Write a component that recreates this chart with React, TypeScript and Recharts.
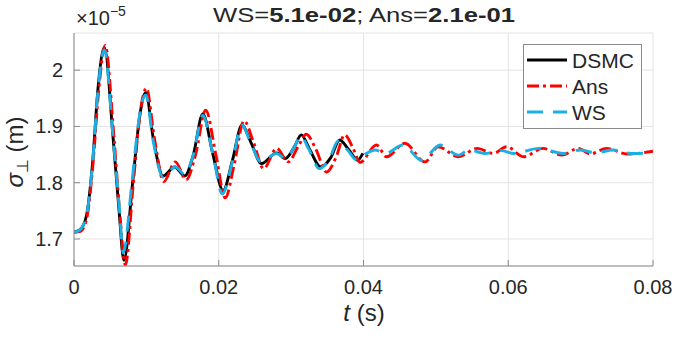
import React from "react";
import { LineChart, Line, XAxis, YAxis, CartesianGrid } from "recharts";

// time (s) and sigma (x1e-5 m) for each series
const dsmcT = [0, 0.0008, 0.0017, 0.0026, 0.0033, 0.0042, 0.0054, 0.0062, 0.0069, 0.0081, 0.0091, 0.0099, 0.011, 0.0123, 0.0139, 0.0153, 0.0165, 0.0178, 0.0192, 0.0206, 0.0219, 0.0232, 0.0245, 0.0259, 0.028, 0.0292, 0.0305, 0.0314, 0.0326, 0.0341, 0.0355, 0.0367, 0.038, 0.0392, 0.0399];
const dsmcV = [1.712, 1.716, 1.74, 1.84, 1.965, 2.04, 1.88, 1.755, 1.662, 1.8, 1.92, 1.96, 1.875, 1.812, 1.828, 1.812, 1.85, 1.922, 1.85, 1.786, 1.84, 1.902, 1.87, 1.834, 1.853, 1.843, 1.865, 1.885, 1.858, 1.828, 1.845, 1.876, 1.858, 1.84, 1.852];

const ansT = [0, 0.0008, 0.0017, 0.0026, 0.0034, 0.0043, 0.0055, 0.0063, 0.0071, 0.0082, 0.0092, 0.01, 0.0111, 0.0124, 0.014, 0.0155, 0.0168, 0.0182, 0.0196, 0.0209, 0.0221, 0.0235, 0.0248, 0.0262, 0.028, 0.0296, 0.031, 0.0321, 0.0334, 0.0349, 0.0362, 0.0374, 0.0386, 0.0395, 0.0418, 0.0432, 0.0457, 0.0485, 0.0503, 0.0531, 0.0557, 0.0579, 0.0598, 0.0621, 0.0648, 0.0674, 0.0697, 0.0713, 0.0736, 0.0764, 0.08];
const ansV = [1.712, 1.713, 1.733, 1.83, 1.962, 2.044, 1.885, 1.75, 1.654, 1.8, 1.93, 1.968, 1.88, 1.802, 1.837, 1.805, 1.85, 1.929, 1.85, 1.773, 1.83, 1.91, 1.872, 1.825, 1.861, 1.837, 1.865, 1.886, 1.86, 1.819, 1.845, 1.885, 1.86, 1.836, 1.867, 1.846, 1.87, 1.837, 1.864, 1.846, 1.861, 1.852, 1.864, 1.846, 1.861, 1.849, 1.861, 1.851, 1.861, 1.851, 1.856];

const wsT = [0, 0.0008, 0.0017, 0.0026, 0.0033, 0.0042, 0.0054, 0.0063, 0.0068, 0.008, 0.009, 0.0099, 0.011, 0.0123, 0.014, 0.0153, 0.0165, 0.0178, 0.0192, 0.0205, 0.0219, 0.0232, 0.0245, 0.0258, 0.028, 0.0292, 0.0305, 0.0313, 0.0325, 0.0339, 0.0353, 0.0365, 0.0378, 0.0391, 0.0404, 0.0416, 0.043, 0.0455, 0.048, 0.0506, 0.0531, 0.0546, 0.0568, 0.059, 0.0608, 0.0642, 0.0676, 0.07, 0.072, 0.0745, 0.077, 0.08];
const wsV = [1.712, 1.716, 1.74, 1.84, 1.962, 2.036, 1.88, 1.75, 1.675, 1.8, 1.915, 1.956, 1.87, 1.81, 1.828, 1.815, 1.85, 1.92, 1.85, 1.78, 1.838, 1.902, 1.868, 1.837, 1.852, 1.843, 1.865, 1.883, 1.858, 1.825, 1.843, 1.874, 1.858, 1.84, 1.852, 1.858, 1.852, 1.867, 1.84, 1.867, 1.849, 1.858, 1.852, 1.857, 1.852, 1.861, 1.852, 1.858, 1.853, 1.858, 1.852, 1.853];

const seriesNames = ["DSMC", "Ans", "WS"];
const seriesColors = ["#000000", "#ff0000", "#1ab0e4"];
const seriesDash = ["", "12 4 3 4", "16 10"];

const xTicks = [0, 0.02, 0.04, 0.06, 0.08];
const xTickLabels = ["0", "0.02", "0.04", "0.06", "0.08"];
const yTicks = [1.7, 1.8, 1.9, 2.0];
const yTickLabels = ["1.7", "1.8", "1.9", "2"];
const xDomain = [0, 0.08];
const yDomain = [1.652, 2.066];

const titleParts = ["WS=", "5.1e-02", "; Ans=", "2.1e-01"];

const toData = (t: number[], v: number[]) => t.map((tt, i) => ({ t: tt, v: v[i] }));
const seriesData = [toData(dsmcT, dsmcV), toData(ansT, ansV), toData(wsT, wsV)];

const FONT = "'Liberation Sans', Arial, sans-serif";
const AX = "#8a8a8a";
const TXT = "#262626";
const LW = 2.9;

const BottomTick = (p: any) => {
  const { x, y, payload, index } = p;
  return (
    <g>
      <line x1={x} x2={x} y1={y} y2={y - 6} stroke={AX} />
      <text x={x} y={y + 28} textAnchor="middle" fontSize={20} style={{ fontFamily: FONT }} fill={TXT}>
        {xTickLabels[index] ?? String(payload.value)}
      </text>
    </g>
  );
};
const TopTick = (p: any) => {
  const { x, y } = p;
  return <line x1={x} x2={x} y1={y} y2={y + 6} stroke={AX} />;
};
const LeftTick = (p: any) => {
  const { x, y, payload, index } = p;
  return (
    <g>
      <line x1={x} x2={x + 6} y1={y} y2={y} stroke={AX} />
      <text x={x - 11} y={y + 7} textAnchor="end" fontSize={20} style={{ fontFamily: FONT }} fill={TXT}>
        {yTickLabels[index] ?? String(payload.value)}
      </text>
    </g>
  );
};
const RightTick = (p: any) => {
  const { x, y } = p;
  return <line x1={x} x2={x - 6} y1={y} y2={y} stroke={AX} />;
};

export default function App() {
  return (
    <div style={{ position: "absolute", left: 0, top: 0, width: 674, height: 339, background: "#fff" }}>
      <LineChart width={674} height={339} margin={{ top: 33, right: 21, left: 0, bottom: 0 }}>
        <CartesianGrid xAxisId="b" yAxisId="l" stroke="#e3e3e3" strokeWidth={1} />
        <XAxis xAxisId="b" dataKey="t" type="number" domain={xDomain} ticks={xTicks} allowDataOverflow
          orientation="bottom" height={73} stroke={AX} tickLine={false} tickSize={0} tickMargin={0} tick={BottomTick} interval={0} />
        <XAxis xAxisId="top" dataKey="t" type="number" domain={xDomain} ticks={xTicks} allowDataOverflow
          orientation="top" height={0} stroke={AX} tickLine={false} tickSize={0} tickMargin={0} tick={TopTick} interval={0} />
        <YAxis yAxisId="l" type="number" domain={yDomain} ticks={yTicks} allowDataOverflow
          orientation="left" width={74} stroke={AX} tickLine={false} tickSize={0} tickMargin={0} tick={LeftTick} interval={0} />
        <YAxis yAxisId="r" type="number" domain={yDomain} ticks={yTicks} allowDataOverflow
          orientation="right" width={0} stroke={AX} tickLine={false} tickSize={0} tickMargin={0} tick={RightTick} interval={0} />
        {seriesData.map((d, i) => (
          <Line key={seriesNames[i]} xAxisId="b" yAxisId="l" data={d} dataKey="v" name={seriesNames[i]}
            type="monotone" stroke={seriesColors[i]} strokeWidth={LW}
            strokeDasharray={seriesDash[i] || undefined} dot={false} activeDot={false} isAnimationActive={false} />
        ))}
      </LineChart>
      <svg width={674} height={339} style={{ position: "absolute", left: 0, top: 0, pointerEvents: "none" }}>
        <text x={364} y={22} textAnchor="middle" fontSize={21} style={{ fontFamily: FONT }} fill={TXT}
          textLength={302} lengthAdjust="spacingAndGlyphs">
          <tspan>{titleParts[0]}</tspan>
          <tspan fontWeight="bold">{titleParts[1]}</tspan>
          <tspan>{titleParts[2]}</tspan>
          <tspan fontWeight="bold">{titleParts[3]}</tspan>
        </text>
        <text x={76} y={25} fontSize={20} style={{ fontFamily: FONT }} fill={TXT}>
          <tspan>×10</tspan>
          <tspan fontSize={14} dy={-9}>−5</tspan>
        </text>
        <text x={364} y={321} textAnchor="middle" fontSize={24} style={{ fontFamily: FONT }} fill={TXT}>
          <tspan fontStyle="italic">t</tspan>
          <tspan> (s)</tspan>
        </text>
        <text x={0} y={0} transform="translate(23,152) rotate(-90)" textAnchor="middle" fontSize={24} style={{ fontFamily: FONT }} fill={TXT}>
          <tspan fontStyle="italic">σ</tspan>
          <tspan fontSize={16} dy={5}>⊥</tspan>
          <tspan dy={-5}> (m)</tspan>
        </text>
        <g>
          <rect x={523.5} y={44.5} width={118} height={84} fill="#fff" stroke={AX} strokeWidth={1} />
          {seriesNames.map((n, i) => (
            <g key={n}>
              <line x1={527} x2={567} y1={60 + i * 26} y2={60 + i * 26} stroke={seriesColors[i]} strokeWidth={LW}
                strokeDasharray={seriesDash[i] || undefined} />
              <text x={572} y={60 + i * 26 + 7.5} fontSize={21} style={{ fontFamily: FONT }} fill={TXT}>{n}</text>
            </g>
          ))}
        </g>
      </svg>
    </div>
  );
}
